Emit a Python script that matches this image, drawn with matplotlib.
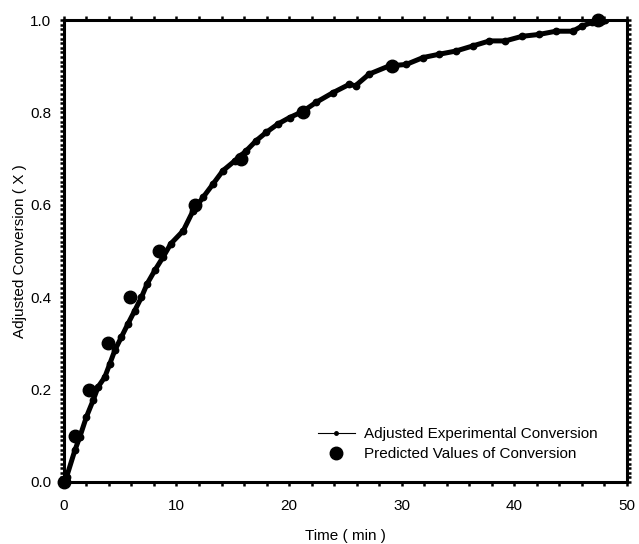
import matplotlib
matplotlib.use('Agg')
import matplotlib.pyplot as plt
from matplotlib.lines import Line2D
from matplotlib.ticker import MultipleLocator

plt.rcParams['font.family'] = ['Liberation Sans', 'DejaVu Sans']

# Adjusted experimental conversion
exp_t = [0, 0.24, 0.98, 1.42, 2.0, 2.6, 3.04, 3.63, 4.08, 4.52, 5.11, 5.70, 6.29, 6.89,
         7.39, 8.07, 8.81, 9.5, 10.6, 11.47, 12.35, 13.24, 14.12, 15.16, 16.19, 17.08,
         17.97, 19.0, 20.04, 21.2, 22.4, 23.9, 25.35, 25.9, 27.1, 28.9, 30.4, 31.9, 33.3,
         34.8, 36.3, 37.8, 39.2, 40.7, 42.2, 43.7, 45.2, 46.0, 46.9, 47.8, 48.1]
exp_x = [0, 0.011, 0.069, 0.098, 0.141, 0.177, 0.206, 0.227, 0.256, 0.285, 0.314, 0.343,
         0.371, 0.400, 0.429, 0.458, 0.487, 0.516, 0.544, 0.587, 0.616, 0.645, 0.674,
         0.695, 0.717, 0.739, 0.757, 0.775, 0.789, 0.802, 0.822, 0.843, 0.861, 0.858,
         0.883, 0.901, 0.904, 0.919, 0.926, 0.933, 0.944, 0.955, 0.955, 0.965, 0.969,
         0.976, 0.976, 0.987, 0.995, 0.998, 1.0]

# Predicted values of conversion
pred_t = [0, 0.98, 2.25, 3.88, 5.86, 8.47, 11.63, 15.69, 21.25, 29.1, 47.4]
pred_x = [0, 0.1, 0.2, 0.3, 0.4, 0.5, 0.6, 0.7, 0.8, 0.9, 1.0]

fig = plt.figure(figsize=(6.39, 5.44), dpi=100)
ax = fig.add_axes([0.100, 0.114, 0.881, 0.849])

ax.plot(exp_t, exp_x, '-', color='black', lw=3.6, marker='o', ms=4.6, zorder=2)
ax.plot(pred_t, pred_x, 'o', color='black', ms=9, zorder=3, clip_on=False)

ax.set_xlim(0, 50)
ax.set_ylim(0, 1.0)
ax.xaxis.set_major_locator(MultipleLocator(10))
ax.xaxis.set_minor_locator(MultipleLocator(2))
ax.yaxis.set_major_locator(MultipleLocator(0.2))
ax.yaxis.set_minor_locator(MultipleLocator(0.01))
ax.yaxis.set_major_formatter(plt.FormatStrFormatter('%.1f'))

ax.tick_params(which='both', direction='out', length=3, width=1.8,
               top=True, right=True, labelsize=11)
ax.tick_params(axis='x', pad=9)
ax.tick_params(axis='y', pad=6)
for s in ax.spines.values():
    s.set_linewidth(2.2)

ax.set_xlabel('Time ( min )', fontsize=11, labelpad=12)
ax.set_ylabel('Adjusted Conversion ( X )', fontsize=11, labelpad=2)

handles = [Line2D([], [], color='black', lw=0.8, marker='o', ms=2.5),
           Line2D([], [], color='black', ls='none', marker='o', ms=9)]
labels = ['Adjusted Experimental Conversion', 'Predicted Values of Conversion']
ax.legend(handles, labels, loc='lower right', bbox_to_anchor=(0.972, 0.015),
          frameon=False, fontsize=11, handlelength=2.4, handletextpad=0.6,
          labelspacing=0.4)

fig.savefig('out.png', dpi=100)
